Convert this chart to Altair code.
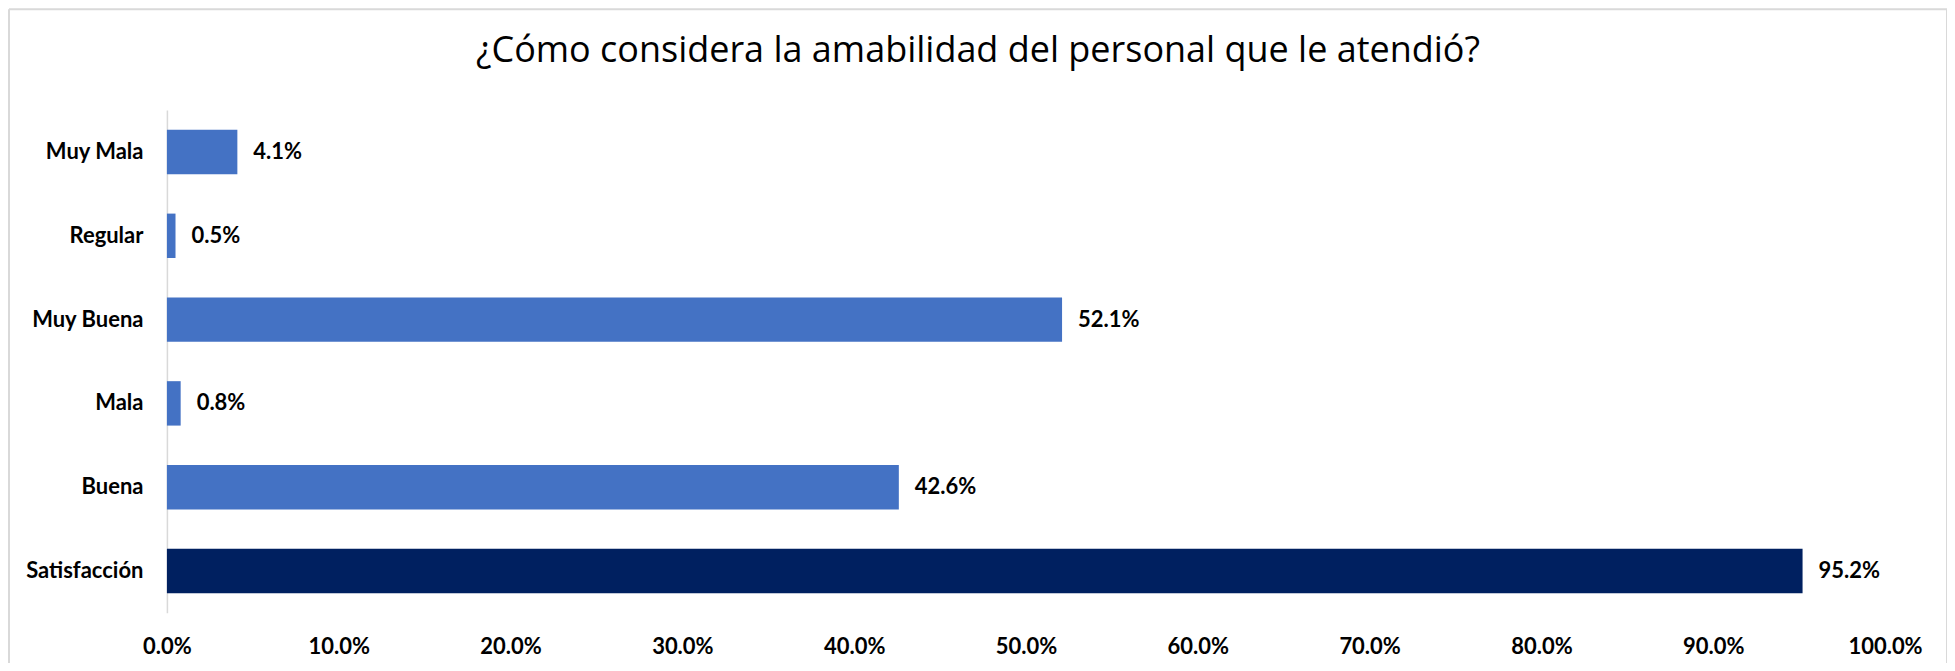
import altair as alt
import pandas as pd

categorias = ["Muy Mala", "Regular", "Muy Buena", "Mala", "Buena", "Satisfacción"]
valores = [0.041, 0.005, 0.521, 0.008, 0.426, 0.952]
titulo = "¿Cómo considera la amabilidad del personal que le atendió?"

df = pd.DataFrame({"categoria": categorias, "valor": valores})

FONT = "Lato"
TITLE_FONT = "Open Sans"
AZUL = "#4472C4"
MARINO = "#002060"
GRIS = "#D9D9D9"

W, H = 1719, 503

y_enc = alt.Y(
    "categoria:N",
    sort=categorias,
    title=None,
    scale=alt.Scale(paddingInner=0.47, paddingOuter=0.235),
    axis=alt.Axis(
        ticks=False,
        domainColor=GRIS,
        domainWidth=1.5,
        labelFont=FONT,
        labelFontSize=22,
        labelFontWeight="bold",
        labelColor="#000000",
        labelPadding=24,
        labelAlign="right",
    ),
)

x_enc = alt.X(
    "valor:Q",
    title=None,
    scale=alt.Scale(domain=[0, 1], nice=False),
    axis=alt.Axis(
        format=".1%",
        values=[i / 10 for i in range(11)],
        grid=False,
        domain=False,
        ticks=False,
        labelFont=FONT,
        labelFontSize=22,
        labelFontWeight="bold",
        labelColor="#000000",
        labelPadding=24,
        labelFlush=False,
    ),
)

bars = alt.Chart(df).mark_bar().encode(
    y=y_enc,
    x=x_enc,
    color=alt.condition(
        alt.datum.categoria == "Satisfacción", alt.value(MARINO), alt.value(AZUL)
    ),
)

text = alt.Chart(df).mark_text(
    align="left", baseline="middle", dx=16, font=FONT, fontSize=22, fontWeight="bold", color="#000000"
).encode(
    y=alt.Y("categoria:N", sort=categorias),
    x=alt.X("valor:Q"),
    text=alt.Text("valor:Q", format=".1%"),
)

marco_df = pd.DataFrame({"b": [0]})
left = alt.Chart(marco_df).mark_rule(color=GRIS, strokeWidth=2).encode(
    x=alt.value(-158), y=alt.value(-101), y2=alt.value(560)
)
right = alt.Chart(marco_df).mark_rule(color=GRIS, strokeWidth=2).encode(
    x=alt.value(1781), y=alt.value(-101), y2=alt.value(560)
)
top = alt.Chart(marco_df).mark_rule(color=GRIS, strokeWidth=2).encode(
    x=alt.value(-158), x2=alt.value(1781), y=alt.value(-101)
)

chart = alt.layer(bars, text, left, right, top).properties(
    width=W,
    height=H,
    autosize=alt.AutoSizeParams(type="none"),
    padding={"left": 159, "top": 102, "right": 62, "bottom": 50},
    title=alt.TitleParams(
        text=titulo,
        font=TITLE_FONT,
        fontSize=36,
        fontWeight="normal",
        color="#000000",
        anchor="middle",
        frame="group",
        baseline="alphabetic",
        offset=-90,
        dx=-48,
    ),
).configure_view(stroke=None)

chart.save("out.html", embed_options={"renderer": "svg", "actions": False})
